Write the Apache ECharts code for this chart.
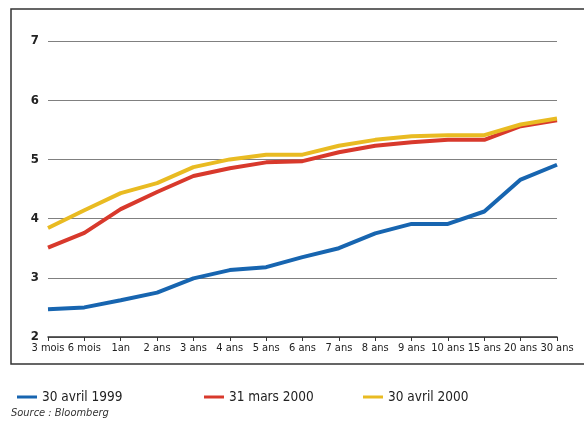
<!DOCTYPE html>
<html>
<head>
<meta charset="utf-8">
<script src="https://cdn.jsdelivr.net/npm/echarts@6/dist/echarts.min.js"></script>
<style>
  html, body { margin: 0; padding: 0; background: #fff; }
  #chart { width: 584px; height: 424px; }
</style>
</head>
<body>
<div id="chart"></div>
<script>
// échéances
var maturities = ['3 mois', '6 mois', '1an', '2 ans', '3 ans', '4 ans', '5 ans', '6 ans',
                  '7 ans', '8 ans', '9 ans', '10 ans', '15 ans', '20 ans', '30 ans'];
// courbes des taux (%)
var avril1999 = [2.47, 2.50, 2.62, 2.75, 2.99, 3.13, 3.18, 3.35, 3.50, 3.75, 3.91, 3.91, 4.12, 4.66, 4.91];
var mars2000  = [3.51, 3.76, 4.16, 4.45, 4.72, 4.85, 4.95, 4.97, 5.12, 5.23, 5.29, 5.33, 5.33, 5.56, 5.66];
var avril2000 = [3.84, 4.14, 4.43, 4.60, 4.87, 5.00, 5.08, 5.08, 5.23, 5.33, 5.39, 5.41, 5.41, 5.59, 5.69];
var seriesNames = ['30 avril 1999', '31 mars 2000', '30 avril 2000'];
var colors = ['#1765b0', '#d8392c', '#e9bb22'];

var narrow = "'Liberation Sans Narrow', 'DejaVu Sans Condensed', sans-serif";

var chart = echarts.init(document.getElementById('chart'));

function mkLegend(i, left) {
    return {
        data: [seriesNames[i]],
        left: left,
        top: 385,
        icon: 'rect',
        itemWidth: 20,
        itemHeight: 3,
        itemGap: 8,
        textStyle: { fontFamily: narrow, fontSize: 13.5, color: '#222' }
    };
}

var option = {
    animation: false,
    color: colors,
    grid: { left: 48, right: 27, top: 41, bottom: 87 },
    legend: [mkLegend(0, 12), mkLegend(1, 199), mkLegend(2, 358)],
    graphic: [
        {
            type: 'rect',
            shape: { x: 11, y: 9, width: 600, height: 355 },
            style: { fill: 'none', stroke: '#333', lineWidth: 1.5 },
            silent: true
        },
        {
            type: 'text',
            left: 11, top: 408,
            style: { text: 'Source : Bloomberg', font: 'italic 11px ' + narrow, fill: '#333' }
        }
    ],
    xAxis: {
        type: 'category',
        data: maturities,
        boundaryGap: false,
        axisLine: { lineStyle: { color: '#333', width: 1.5 } },
        axisTick: { show: true, length: 4, lineStyle: { color: '#333' } },
        axisLabel: { interval: 0, margin: 6, fontFamily: narrow, fontSize: 11, color: '#222' }
    },
    yAxis: {
        type: 'value',
        min: 2, max: 7, interval: 1,
        axisLine: { show: false },
        axisTick: { show: false },
        axisLabel: { margin: 9, fontFamily: narrow, fontSize: 13, fontWeight: 'bold', color: '#222' },
        splitLine: { lineStyle: { color: '#808080', width: 1 } }
    },
    series: [
        { name: seriesNames[0], type: 'line', data: avril1999, symbol: 'none', lineStyle: { width: 4 } },
        { name: seriesNames[1], type: 'line', data: mars2000, symbol: 'none', lineStyle: { width: 4 } },
        { name: seriesNames[2], type: 'line', data: avril2000, symbol: 'none', lineStyle: { width: 4 } }
    ]
};
chart.setOption(option);
</script>
</body>
</html>
